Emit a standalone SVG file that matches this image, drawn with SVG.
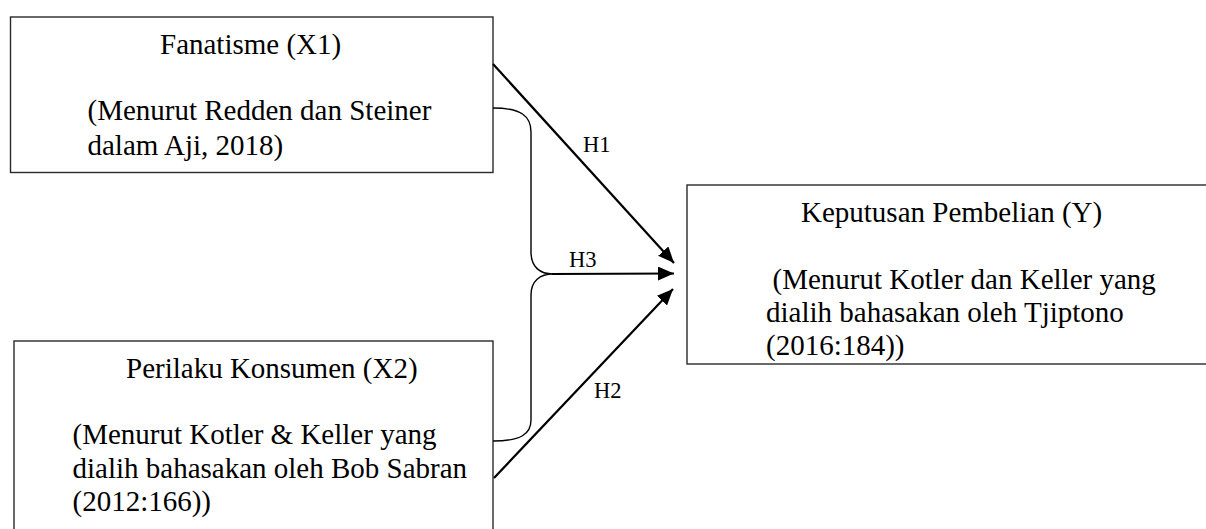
<svg xmlns="http://www.w3.org/2000/svg" width="1206" height="529" viewBox="0 0 1206 529">
  <style>
    .box { fill: #ffffff; stroke: #2a2a2a; stroke-width: 1.4; }
    .t { font-family: "Liberation Serif", "Times New Roman", serif; font-size: 29px; fill: #000; }
    .lbl { font-family: "Liberation Serif", "Times New Roman", serif; font-size: 22.5px; fill: #000; }
    .arrow { stroke: #000; stroke-width: 2.2; fill: none; marker-end: url(#ah); }
    .brace { stroke: #000; stroke-width: 1.4; fill: none; }
  </style>
  <defs>
    <marker id="ah" markerUnits="userSpaceOnUse" markerWidth="16" markerHeight="14" viewBox="0 0 16 14" refX="16" refY="7" orient="auto">
      <path d="M0,0 L16,7 L0,14 Z" fill="#000"/>
    </marker>
  </defs>
  <rect width="1206" height="529" fill="#ffffff"/>

  <g id="node-x1">
    <rect class="box" x="10.5" y="17" width="482.5" height="155.5"/>
    <text class="t" x="160" y="54">Fanatisme (X1)</text>
    <text class="t" x="87.5" y="120">(Menurut Redden dan Steiner</text>
    <text class="t" x="87.5" y="155">dalam Aji, 2018)</text>
  </g>

  <g id="node-x2">
    <rect class="box" x="14" y="341" width="479" height="200"/>
    <text class="t" x="126" y="378">Perilaku Konsumen (X2)</text>
    <text class="t" x="72.5" y="444">(Menurut Kotler &amp; Keller yang</text>
    <text class="t" x="72.5" y="478">dialih bahasakan oleh Bob Sabran</text>
    <text class="t" x="72.5" y="511">(2012:166))</text>
  </g>

  <g id="node-y">
    <rect class="box" x="687" y="185" width="530" height="179"/>
    <text class="t" x="801" y="222">Keputusan Pembelian (Y)</text>
    <text class="t" x="772.5" y="289">(Menurut Kotler dan Keller yang</text>
    <text class="t" x="766" y="322">dialih bahasakan oleh Tjiptono</text>
    <text class="t" x="766" y="355">(2016:184))</text>
  </g>

  <g id="connectors">
    <path class="brace" d="M493,108 C521,108 531,116 531,132 L531,252 C531,267 540,274 553,274 C540,274 531,281 531,295 L531,420 C531,434 521,441 493,441"/>
    <line class="arrow" x1="493" y1="64" x2="674" y2="263"/>
    <line class="arrow" x1="552" y1="274" x2="674" y2="273.5"/>
    <line class="arrow" x1="494" y1="478" x2="673" y2="289"/>
    <text class="lbl" x="583" y="152">H1</text>
    <text class="lbl" x="569" y="267">H3</text>
    <text class="lbl" x="594" y="398">H2</text>
  </g>
</svg>
